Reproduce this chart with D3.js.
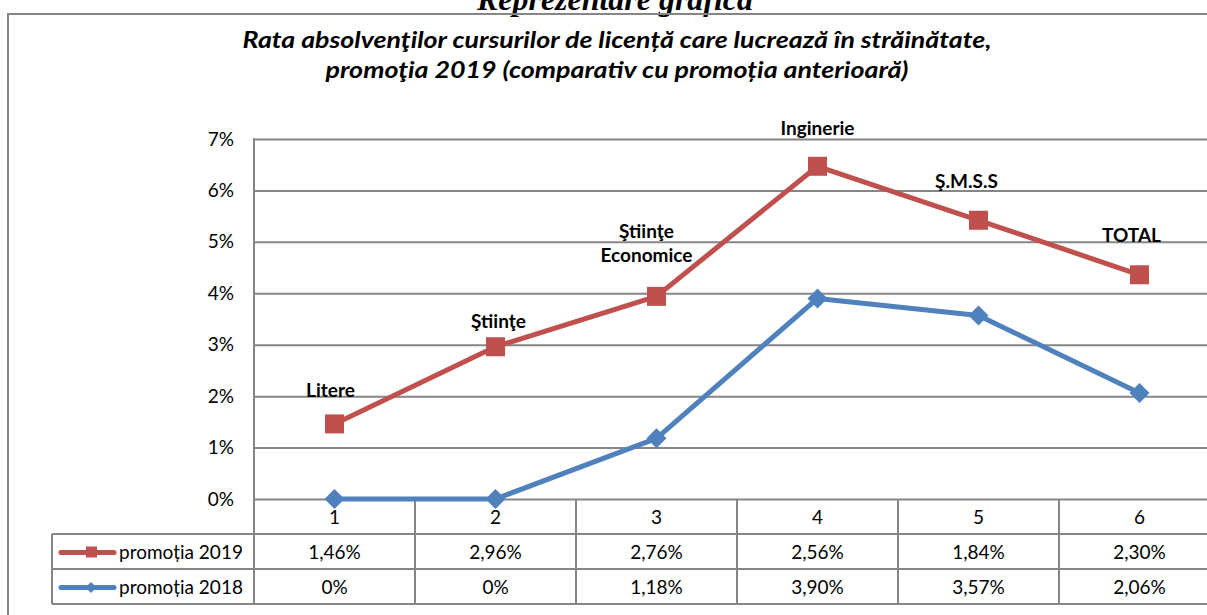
<!DOCTYPE html>
<html>
<head>
<meta charset="utf-8">
<script src="https://cdn.jsdelivr.net/npm/d3@7"></script>
<style>
  body { margin: 0; background: #fff; }
  svg { display: block; font-family: Lato, "Open Sans", sans-serif; }
</style>
</head>
<body>
<div id="chart"></div>
<script>
var width = 1207, height = 615;

// data
var categories = ["1", "2", "3", "4", "5", "6"];
var pointLabels = [["Litere"], ["Ştiinţe"], ["Ştiinţe", "Economice"], ["Inginerie"], ["Ş.M.S.S"], ["TOTAL"]];
var values2019 = [0.0146, 0.0296, 0.0394, 0.0647, 0.0542, 0.0436];
var values2018 = [0, 0, 0.0118, 0.0390, 0.0357, 0.0206];
// the table under the chart prints these strings
var table2019 = ["1,46%", "2,96%", "2,76%", "2,56%", "1,84%", "2,30%"];
var table2018 = ["0%", "0%", "1,18%", "3,90%", "3,57%", "2,06%"];
var seriesNames = ["promoția 2019", "promoția 2018"];
var yTicks = [0, 0.01, 0.02, 0.03, 0.04, 0.05, 0.06, 0.07];

var red = "#C0504D", blue = "#4F81BD", grid = "#868686";
var fs = "19px";

var plot = {left: 254, right: 1220, top: 139, bottom: 499};
var rowH = 35;

var svg = d3.select("#chart").append("svg")
    .attr("width", width)
    .attr("height", height);

var x = d3.scaleBand().domain(categories).range([plot.left, plot.right]);
var y = d3.scaleLinear().domain([0, 0.07]).range([plot.bottom, plot.top]);

// big heading, cut by the top edge
svg.append("text")
    .attr("x", 615).attr("y", 10)
    .attr("text-anchor", "middle")
    .attr("textLength", 276).attr("lengthAdjust", "spacingAndGlyphs")
    .style("font-family", "'Liberation Serif', serif")
    .style("font-weight", "bold").style("font-style", "italic")
    .style("font-size", "31px")
    .text("Reprezentare grafică");

// chart frame
svg.append("rect")
    .attr("x", 8).attr("y", 14)
    .attr("width", 1300).attr("height", 700)
    .attr("fill", "none")
    .attr("stroke", grid).attr("stroke-width", 2);

var titleLines = ["Rata absolvenţilor cursurilor de licență care lucrează în străinătate,",
                  "promoţia 2019 (comparativ cu promoția anterioară)"];
var titleW = [749, 583];
svg.selectAll(".title").data(titleLines).enter().append("text")
    .attr("class", "title")
    .attr("x", 617)
    .attr("y", function(d, i) { return 48 + i * 30; })
    .attr("text-anchor", "middle")
    .attr("textLength", function(d, i) { return titleW[i]; })
    .attr("lengthAdjust", "spacingAndGlyphs")
    .style("font-weight", "bold").style("font-style", "italic")
    .style("font-size", "23px")
    .text(function(d) { return d; });

// y axis with gridlines
var yAxis = svg.append("g")
    .attr("transform", "translate(" + plot.left + ",0)")
    .call(d3.axisLeft(y).tickValues(yTicks).tickFormat(d3.format(".0%"))
        .tickSizeInner(-(plot.right - plot.left)).tickSizeOuter(0).tickPadding(20));
yAxis.select(".domain").remove();
yAxis.selectAll(".tick line").attr("stroke", grid).attr("stroke-width", 2);
yAxis.selectAll(".tick text")
    .attr("fill", "#000")
    .style("font-family", "Lato, sans-serif")
    .style("font-size", fs);

// table below the plot
var tbl = svg.append("g");
var rows = [plot.bottom + rowH, plot.bottom + 2 * rowH, plot.bottom + 3 * rowH];
tbl.selectAll(".hrow").data(rows).enter().append("line")
    .attr("x1", 52).attr("x2", plot.right)
    .attr("y1", function(d) { return d; }).attr("y2", function(d) { return d; })
    .attr("stroke", grid).attr("stroke-width", 2);
tbl.append("line")
    .attr("x1", 52).attr("x2", 52)
    .attr("y1", rows[0]).attr("y2", rows[2])
    .attr("stroke", grid).attr("stroke-width", 2);
tbl.append("line")
    .attr("x1", plot.left).attr("x2", plot.left)
    .attr("y1", plot.top - 1).attr("y2", rows[2] + 1)
    .attr("stroke", grid).attr("stroke-width", 2);
tbl.selectAll(".vcol").data(categories.slice(1)).enter().append("line")
    .attr("x1", function(d) { return x(d); }).attr("x2", function(d) { return x(d); })
    .attr("y1", plot.bottom).attr("y2", rows[2] + 1)
    .attr("stroke", grid).attr("stroke-width", 2);

function cellText(arr, yc) {
  tbl.selectAll(null).data(arr).enter().append("text")
      .attr("x", function(d, i) { return x(categories[i]) + x.bandwidth() / 2; })
      .attr("y", yc)
      .attr("dy", "0.35em")
      .attr("text-anchor", "middle")
      .style("font-size", fs)
      .text(function(d) { return d; });
}
cellText(categories, plot.bottom + rowH / 2 + 1);
cellText(table2019, plot.bottom + rowH * 1.5 + 1);
cellText(table2018, plot.bottom + rowH * 2.5 + 1);

// lines
var line = d3.line()
    .x(function(d, i) { return x(categories[i]) + x.bandwidth() / 2; })
    .y(function(d) { return y(d); });

svg.append("path").datum(values2018)
    .attr("d", line).attr("fill", "none")
    .attr("stroke", blue).attr("stroke-width", 5).attr("stroke-linejoin", "round");
svg.append("path").datum(values2019)
    .attr("d", line).attr("fill", "none")
    .attr("stroke", red).attr("stroke-width", 5).attr("stroke-linejoin", "round");

svg.selectAll(".pt18").data(values2018).enter().append("path")
    .attr("transform", function(d, i) { return "translate(" + (x(categories[i]) + x.bandwidth() / 2) + "," + y(d) + ") rotate(45)"; })
    .attr("d", d3.symbol().type(d3.symbolSquare).size(200))
    .attr("fill", blue);

svg.selectAll(".pt19").data(values2019).enter().append("rect")
    .attr("x", function(d, i) { return x(categories[i]) + x.bandwidth() / 2 - 9.5; })
    .attr("y", function(d) { return y(d) - 9.5; })
    .attr("width", 19).attr("height", 19)
    .attr("fill", red);

// point labels above the 2019 line
var labelShift = [[-4, -34], [3, -25], [-10, -65], [0, -38], [-12, -39], [-8, -39]];
svg.selectAll(".plab").data(pointLabels).enter().append("text")
    .attr("text-anchor", "middle")
    .style("font-weight", "bold").style("font-size", fs)
    .each(function(d, i) {
      var cx = x(categories[i]) + x.bandwidth() / 2 + labelShift[i][0];
      var cy = y(values2019[i]) + labelShift[i][1];
      d3.select(this).selectAll("tspan").data(d).enter().append("tspan")
          .attr("x", cx)
          .attr("y", function(t, j) { return cy + j * 24; })
          .attr("dy", "0.35em")
          .text(function(t) { return t; });
    });

// legend keys in the table
var keys = [{name: seriesNames[0], color: red, yc: plot.bottom + rowH * 1.5 + 1},
            {name: seriesNames[1], color: blue, yc: plot.bottom + rowH * 2.5 + 1}];
keys.forEach(function(k, i) {
  tbl.append("line")
      .attr("x1", 61).attr("x2", 114)
      .attr("y1", k.yc).attr("y2", k.yc)
      .attr("stroke", k.color).attr("stroke-width", 5).attr("stroke-linecap", "round");
  if (i == 0) {
    tbl.append("rect")
        .attr("x", 86).attr("y", k.yc - 6).attr("width", 11).attr("height", 11)
        .attr("fill", k.color);
  } else {
    tbl.append("path")
        .attr("transform", "translate(91," + k.yc + ") rotate(45)")
        .attr("d", d3.symbol().type(d3.symbolSquare).size(60))
        .attr("fill", k.color);
  }
  tbl.append("text")
      .attr("x", 119).attr("y", k.yc).attr("dy", "0.35em")
      .style("font-size", fs)
      .text(k.name);
});
</script>
</body>
</html>
